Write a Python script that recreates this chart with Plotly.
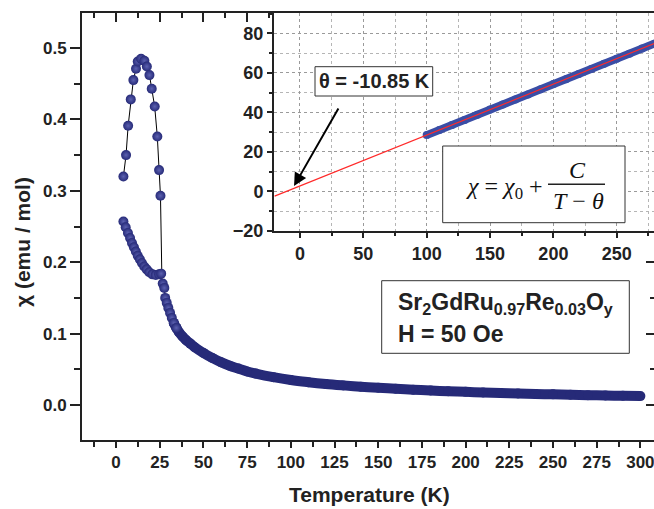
import plotly.graph_objects as go

# ---------------- data ----------------
# ZFC branch (low temperature, with the cusp)
zfc_T = [4.2, 5.7, 6.9, 8.4, 9.9, 11.4, 12.4, 14.3, 16.2, 17.6, 19.1, 20.4, 22.1, 23.6, 24.6, 25.4, 26.2]
zfc_chi = [0.320, 0.350, 0.391, 0.428, 0.455, 0.471, 0.481, 0.485, 0.482, 0.474, 0.462, 0.443, 0.418, 0.376, 0.329, 0.293, 0.180]

# FC branch (low temperature)
fc_T = [4.2, 5.5, 6.8, 8.0, 9.1, 10.2, 11.3, 12.4, 13.6, 14.8, 16.1, 17.5, 19.0, 20.8, 22.7, 24.6, 25.8]
fc_chi = [0.257, 0.249, 0.241, 0.234, 0.227, 0.221, 0.215, 0.209, 0.204, 0.199, 0.194, 0.190, 0.186, 0.183, 0.182, 0.183, 0.184]

# common part above the transition
com_T = [26.7, 27.6, 28.1, 29.0, 29.9, 30.9, 31.9, 33.0, 34.5, 36, 38, 40, 42.5, 45, 50, 55, 60, 65, 70, 75, 80,
         90, 100, 110, 120, 130, 140, 150, 160, 170, 180, 190, 200, 210, 220, 230, 240, 250, 260, 270, 280, 290, 300]
com_chi = [0.170, 0.164, 0.150, 0.143, 0.136, 0.129, 0.122, 0.115, 0.108, 0.102, 0.096, 0.091, 0.086, 0.081, 0.073,
           0.066, 0.060, 0.055, 0.051, 0.047, 0.044, 0.039, 0.035, 0.032, 0.0295, 0.0275, 0.0257, 0.0241, 0.0227,
           0.0214, 0.0203, 0.0193, 0.0184, 0.0176, 0.0168, 0.0161, 0.0155, 0.0149, 0.0143, 0.0138, 0.0133, 0.0129, 0.0125]

# inset: inverse susceptibility and Curie-Weiss fit
inv_T = [100, 110, 120, 130, 140, 150, 160, 170, 180, 190, 200, 210, 220, 230, 240, 250, 260, 270, 280]
inv_chi = [28.5, 31.1, 33.6, 36.2, 38.8, 41.4, 44.0, 46.5, 49.1, 51.7, 54.3, 56.8, 59.4, 62.0, 64.6, 67.2, 69.7, 72.3, 74.9]
fit_T = [-20, 280]
fit_inv = [-2.4, 74.9]

main_xticks = [0, 25, 50, 75, 100, 125, 150, 175, 200, 225, 250, 275, 300]
inset_xticks = [0, 50, 100, 150, 200, 250]
inset_yticks = [-20, 0, 20, 40, 60, 80]

# ---------------- geometry helpers ----------------
W, H = 654, 509
ML, MR, MT, MB = 82, 0, 13, 69
PW, PH = W - ML - MR, H - MT - MB


def px(x):
    return (x - ML) / PW


def py(y):
    return (H - MB - y) / PH


NAVY = "#262a78"
AX = "#222222"
FONT = "Liberation Sans"

fig = go.Figure()

# connecting thin lines
fig.add_trace(go.Scatter(x=zfc_T, y=zfc_chi, mode="lines", line=dict(color="black", width=1), hoverinfo="skip"))
fig.add_trace(go.Scatter(x=fc_T, y=fc_chi, mode="lines", line=dict(color="black", width=1), hoverinfo="skip"))
fig.add_trace(go.Scatter(x=[fc_T[-1]] + com_T[:8], y=[fc_chi[-1]] + com_chi[:8], mode="lines",
                         line=dict(color="black", width=1), hoverinfo="skip"))
# dense tail as a thick band
tailT = [t for t in com_T if t >= 32]
tailC = [c for t, c in zip(com_T, com_chi) if t >= 32]
fig.add_trace(go.Scatter(x=tailT, y=tailC, mode="lines+markers", line=dict(color=NAVY, width=10, shape="spline"),
                         marker=dict(size=10, color=NAVY), hoverinfo="skip"))
# shaded balls
ball = dict(size=10, color=NAVY, gradient=dict(type="radial", color="#5c61b0"), line=dict(width=0))
lowT = [t for t in com_T if t < 36]
lowC = [c for t, c in zip(com_T, com_chi) if t < 36]
fig.add_trace(go.Scatter(x=fc_T, y=fc_chi, mode="markers", marker=ball))
fig.add_trace(go.Scatter(x=zfc_T[:-1], y=zfc_chi[:-1], mode="markers", marker=ball))
fig.add_trace(go.Scatter(x=lowT, y=lowC, mode="markers", marker=ball))

# dummy trace for the top/right mirror axes
fig.add_trace(go.Scatter(x=[None], y=[None], xaxis="x3", yaxis="y3", showlegend=False))

# inset
fig.add_trace(go.Scatter(x=inv_T, y=inv_chi, mode="lines+markers", xaxis="x2", yaxis="y2",
                         line=dict(color="#3a4ea6", width=8), marker=dict(size=8, color="#3a4ea6")))
fig.add_trace(go.Scatter(x=fit_T, y=fit_inv, mode="lines", xaxis="x2", yaxis="y2",
                         line=dict(color="#ff2a2a", width=1.2)))

tickfont = dict(family=FONT, size=17, color=AX, weight="bold")
xr = [-19.5, 307.8]
yr = [-0.049, 0.549]

fig.update_layout(
    width=W, height=H, margin=dict(l=ML, r=MR, t=MT, b=MB),
    paper_bgcolor="white", plot_bgcolor="white", showlegend=False,
    xaxis=dict(domain=[0, 1], anchor="y", range=xr, tickvals=main_xticks, ticks="outside", ticklen=6,
               tickwidth=2, tickcolor=AX, showline=True, linewidth=2, linecolor=AX, showgrid=False,
               zeroline=False, tickfont=tickfont, ticklabeloverflow="allow",
               minor=dict(dtick=12.5, tick0=0, ticks="outside", ticklen=5, tickwidth=2, tickcolor=AX)),
    yaxis=dict(domain=[0, 1], anchor="x", range=yr, dtick=0.1, tick0=0, tickformat=".1f", ticks="outside",
               ticklen=10, tickwidth=2, tickcolor=AX, showline=True, linewidth=2, linecolor=AX,
               showgrid=False, zeroline=False, tickfont=tickfont,
               minor=dict(dtick=0.05, tick0=0, ticks="outside", ticklen=6, tickwidth=2, tickcolor=AX)),
    xaxis3=dict(overlaying="x", side="top", anchor="y", range=xr, tickvals=main_xticks, ticks="inside",
                ticklen=9, tickwidth=2, tickcolor=AX, showline=True, linewidth=2, linecolor=AX,
                showgrid=False, zeroline=False, showticklabels=False,
                minor=dict(dtick=12.5, tick0=0, ticks="inside", ticklen=5, tickwidth=2, tickcolor=AX)),
    yaxis3=dict(overlaying="y", side="right", anchor="x", range=yr, dtick=0.1, tick0=0, ticks="inside",
                ticklen=8, tickwidth=2, tickcolor=AX, showline=False, showgrid=False, zeroline=False,
                showticklabels=False,
                minor=dict(dtick=0.05, tick0=0, ticks="inside", ticklen=4, tickwidth=2, tickcolor=AX)),
    xaxis2=dict(domain=[px(274), 1], anchor="y2", range=[-20.5, 279.4], tickvals=inset_xticks, ticks="outside",
                ticklen=5, tickwidth=2, tickcolor=AX, showline=True, linewidth=2, linecolor=AX,
                showgrid=True, gridcolor="#9a9a9a", griddash="dot", gridwidth=1, zeroline=False,
                tickfont=dict(family=FONT, size=18, color=AX, weight="bold"), ticklabeloverflow="allow",
                minor=dict(dtick=25, tick0=0, ticks="outside", ticklen=3, tickwidth=2, tickcolor=AX,
                           showgrid=True, gridcolor="#b5b5b5", griddash="dot", gridwidth=1)),
    yaxis2=dict(domain=[py(231), 1], anchor="x2", range=[-20.05, 90.3], tickvals=inset_yticks, ticks="outside",
                ticklen=5, tickwidth=2, tickcolor=AX, showline=True, linewidth=2, linecolor=AX,
                showgrid=True, gridcolor="#9a9a9a", griddash="dot", gridwidth=1, zeroline=False,
                tickfont=dict(family=FONT, size=18, color=AX, weight="bold"),
                minor=dict(dtick=10, tick0=0, ticks="outside", ticklen=3, tickwidth=2, tickcolor=AX,
                           showgrid=True, gridcolor="#b5b5b5", griddash="dot", gridwidth=1)),
)

shapes = []
# theta label box
shapes.append(dict(type="rect", xref="paper", yref="paper", x0=px(315), x1=px(432.7), y0=py(96), y1=py(66.7),
                   line=dict(color="#333", width=1), fillcolor="white", layer="above"))
# equation box
shapes.append(dict(type="rect", xref="paper", yref="paper", x0=px(442.7), x1=px(625), y0=py(222.7), y1=py(146),
                   line=dict(color="#333", width=1), fillcolor="white", layer="above"))
# fraction bar
shapes.append(dict(type="line", xref="paper", yref="paper", x0=px(548), x1=px(605), y0=py(184.3), y1=py(184.3),
                   line=dict(color="#222", width=1.5), layer="above"))
# sample box
shapes.append(dict(type="rect", xref="paper", yref="paper", x0=px(381.7), x1=px(629.3), y0=py(353.3), y1=py(280.7),
                   line=dict(color="#333", width=1), fillcolor="white", layer="above"))
fig.update_layout(shapes=shapes)

bold = lambda s: dict(family=FONT, size=s, color=AX, weight="bold")
serif = dict(family="Liberation Serif", size=24, color="#111")
ann = [
    dict(text="Temperature (K)", x=px(369), y=py(495), xref="paper", yref="paper", showarrow=False,
         font=bold(21), xanchor="center", yanchor="middle"),
    dict(text="χ (emu / mol)", x=px(23), y=py(242), xref="paper", yref="paper", showarrow=False,
         font=bold(21), textangle=-90, xanchor="center", yanchor="middle"),
    dict(text="θ = -10.85 K", x=px(374), y=py(81.5), xref="paper", yref="paper", showarrow=False,
         font=bold(20), xanchor="center", yanchor="middle"),
    dict(text="", x=-4.7, y=2.7, xref="x2", yref="y2", ax=31, ay=42.7, axref="x2", ayref="y2",
         showarrow=True, arrowhead=2, arrowsize=1.3, arrowwidth=2, arrowcolor="black"),
    dict(text="<i>χ</i> = <i>χ</i><sub>0</sub> +", x=px(504), y=py(188), xref="paper", yref="paper",
         showarrow=False, font=serif, xanchor="center", yanchor="middle"),
    dict(text="<i>C</i>", x=px(577), y=py(170), xref="paper", yref="paper",
         showarrow=False, font=serif, xanchor="center", yanchor="middle"),
    dict(text="<i>T</i> − <i>θ</i>", x=px(578), y=py(201), xref="paper", yref="paper",
         showarrow=False, font=serif, xanchor="center", yanchor="middle"),
    dict(text="Sr<sub>2</sub>GdRu<sub>0.97</sub>Re<sub>0.03</sub>O<sub>y</sub>", x=px(396), y=py(303),
         xref="paper", yref="paper", showarrow=False, font=bold(23), xanchor="left", yanchor="middle"),
    dict(text="H = 50 Oe", x=px(396), y=py(334), xref="paper", yref="paper", showarrow=False,
         font=bold(23), xanchor="left", yanchor="middle"),
]
fig.update_layout(annotations=ann)

fig.write_html("out.html")
